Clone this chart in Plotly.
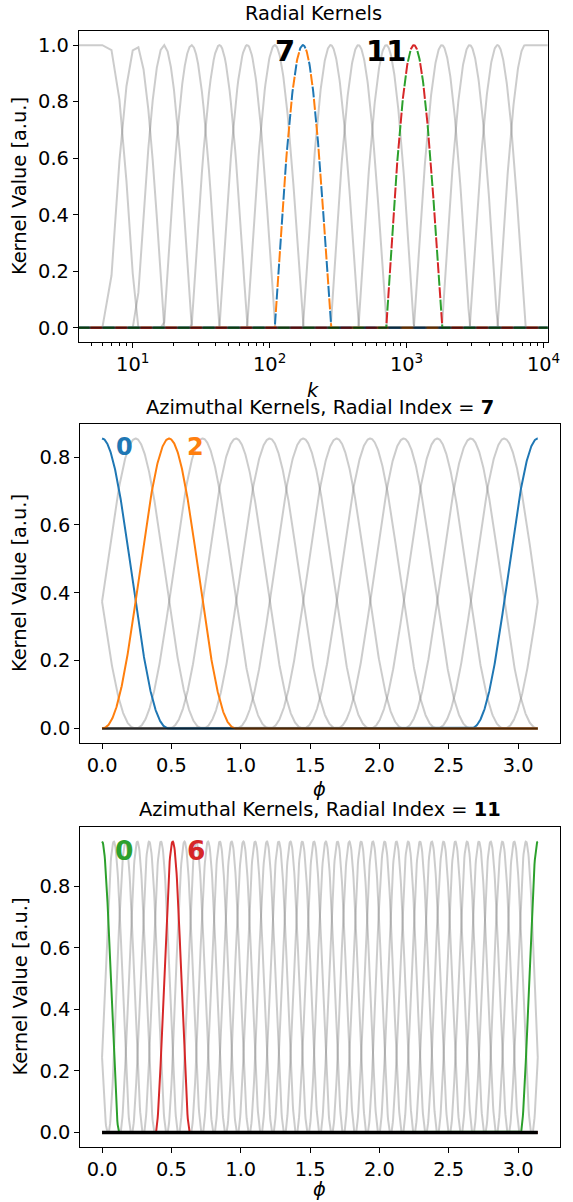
import numpy as np
import plotly.graph_objects as go

# ---- radial kernels: centre wavenumber of each radial index (0..15) ----
radial_centers = [6.62, 10.6, 16.9, 26.9, 43.0, 68.5, 109, 175, 279, 445,
                  710, 1130, 1810, 2890, 4610, 7350]
k_limits = [4.04, 10740]
radial_highlight = [7, 11]
radial_highlight_colors = [["#1f77b4", "#ff7f0e"], ["#2ca02c", "#d62728"]]
radial_tick_vals = [10, 100, 1000, 10000]
radial_tick_text = ["10<sup>1</sup>", "10<sup>2</sup>", "10<sup>3</sup>", "10<sup>4</sup>"]

# ---- azimuthal kernels for the two highlighted radial indices ----
azimuthal_radial_index = [7, 11]
azimuthal_orientations = [13, 37]
azimuthal_peak = [0.855, 0.945]
azimuthal_halfwidth = [0.49, 0.123]
azimuthal_power = [2.46, 1.78]
azimuthal_highlight = [[0, 2], [0, 6]]
azimuthal_highlight_colors = [["#1f77b4", "#ff7f0e"], ["#2ca02c", "#d62728"]]

phi_ticks = [0.0, 0.5, 1.0, 1.5, 2.0, 2.5, 3.0]
yticks_radial = [0.0, 0.2, 0.4, 0.6, 0.8, 1.0]
yticks_azimuthal = [0.0, 0.2, 0.4, 0.6, 0.8]

GRAY = "rgba(128,128,128,0.4)"
FONT = "DejaVu Sans"
W, H = 573, 1202


def radial_kernel(k, i, centers):
    lk = np.log10(k)
    lc = np.log10(np.asarray(centers, dtype=float))
    n = len(lc)
    out = np.zeros_like(lk)
    if i > 0:
        m = (lk >= lc[i - 1]) & (lk <= lc[i])
        out[m] = np.sin(np.pi / 2 * (lk[m] - lc[i - 1]) / (lc[i] - lc[i - 1]))
    else:
        out[lk <= lc[0]] = 1.0
    if i < n - 1:
        m = (lk >= lc[i]) & (lk <= lc[i + 1])
        out[m] = np.cos(np.pi / 2 * (lk[m] - lc[i]) / (lc[i + 1] - lc[i]))
    else:
        out[lk >= lc[-1]] = 1.0
    return out


def azimuthal_kernel(phi, j, n, peak, halfwidth, power):
    centre = j * np.pi / n
    d = np.mod(phi - centre + np.pi / 2, np.pi) - np.pi / 2
    out = np.zeros_like(phi)
    m = np.abs(d) < halfwidth
    out[m] = peak * np.cos(np.pi / 2 * d[m] / halfwidth) ** power
    return out


# integer wavenumbers, denser at low k
k = np.unique(np.round(np.geomspace(k_limits[0] - 0.04, k_limits[1], 1600)))
phi = np.linspace(0, np.pi, 1200)

fig = go.Figure()

# ---- panel 1: radial kernels ----
for i in range(len(radial_centers)):
    if i in radial_highlight:
        continue
    fig.add_trace(go.Scatter(x=k, y=radial_kernel(k, i, radial_centers), mode="lines",
                             line=dict(color=GRAY, width=2), xaxis="x", yaxis="y",
                             hoverinfo="skip"))
# highlighted radial kernels: two-colour dashes (second colour fills the gaps)
for idx, colors in zip(radial_highlight, radial_highlight_colors):
    yk = radial_kernel(k, idx, radial_centers)
    fig.add_trace(go.Scatter(x=k, y=yk, mode="lines",
                             line=dict(color=colors[0], width=2, dash="11px,14px"),
                             xaxis="x", yaxis="y", hoverinfo="skip"))
    fig.add_trace(go.Scatter(x=k, y=yk, mode="lines",
                             line=dict(color=colors[1], width=2, dash="0px,12.5px,11px,1.5px"),
                             xaxis="x", yaxis="y", hoverinfo="skip"))
fig.add_trace(go.Scatter(x=k, y=np.zeros_like(k), mode="lines",
                         line=dict(color="rgba(0,0,0,0.65)", width=2),
                         xaxis="x", yaxis="y", hoverinfo="skip"))

# ---- panels 2 and 3: azimuthal kernels ----
for p in range(2):
    xa, ya = ("x2", "y2") if p == 0 else ("x3", "y3")
    n = azimuthal_orientations[p]
    for j in range(n):
        if j in azimuthal_highlight[p]:
            continue
        fig.add_trace(go.Scatter(
            x=phi, y=azimuthal_kernel(phi, j, n, azimuthal_peak[p],
                                      azimuthal_halfwidth[p], azimuthal_power[p]),
            mode="lines", line=dict(color=GRAY, width=2), xaxis=xa, yaxis=ya,
            hoverinfo="skip"))
    for j, c in zip(azimuthal_highlight[p], azimuthal_highlight_colors[p]):
        fig.add_trace(go.Scatter(
            x=phi, y=azimuthal_kernel(phi, j, n, azimuthal_peak[p],
                                      azimuthal_halfwidth[p], azimuthal_power[p]),
            mode="lines", line=dict(color=c, width=2), xaxis=xa, yaxis=ya,
            hoverinfo="skip"))
    zero_line = dict(color="rgba(0,0,0,0.7)", width=2) if p == 0 else dict(color="black", width=3.5)
    fig.add_trace(go.Scatter(x=phi, y=np.zeros_like(phi), mode="lines", line=zero_line,
                             xaxis=xa, yaxis=ya, hoverinfo="skip"))


def xdom(a, b):
    return [a / W, b / W]


def ydom(top, bottom):
    return [1 - bottom / H, 1 - top / H]


axis_common = dict(showline=True, linecolor="black", linewidth=1, mirror=True,
                   ticks="outside", ticklen=5, tickwidth=1, tickcolor="black",
                   showgrid=False, zeroline=False,
                   tickfont=dict(family=FONT, size=19.4, color="black"))

panels = [(80.5, 559.5, 31, 342), (82, 571.5, 424, 743), (82, 571.5, 827, 1147)]

minor_vals = [m * 10 ** e for e in range(0, 5) for m in range(2, 10)
              if k_limits[0] <= m * 10 ** e <= k_limits[1]]

fig.update_layout(
    width=W, height=H, margin=dict(l=0, r=0, t=0, b=0),
    paper_bgcolor="white", plot_bgcolor="white", showlegend=False,
    font=dict(family=FONT, color="black"),
    xaxis=dict(axis_common, type="log", domain=xdom(*panels[0][:2]), anchor="y",
               range=[np.log10(k_limits[0]), np.log10(k_limits[1])],
               tickvals=radial_tick_vals, ticktext=radial_tick_text,
               minor=dict(ticks="outside", ticklen=2.8, tickwidth=0.8, tickcolor="black",
                          tickvals=minor_vals)),
    yaxis=dict(axis_common, domain=ydom(*panels[0][2:]), anchor="x", range=[-0.05, 1.05],
               tickvals=yticks_radial, ticktext=[f"{v:.1f}" for v in yticks_radial]),
    xaxis2=dict(axis_common, domain=xdom(*panels[1][:2]), anchor="y2",
                range=[-0.157, np.pi + 0.157],
                tickvals=phi_ticks, ticktext=[f"{v:.1f}" for v in phi_ticks]),
    yaxis2=dict(axis_common, domain=ydom(*panels[1][2:]), anchor="x2",
                range=[-0.05 * azimuthal_peak[0], 1.05 * azimuthal_peak[0]],
                tickvals=yticks_azimuthal, ticktext=[f"{v:.1f}" for v in yticks_azimuthal]),
    xaxis3=dict(axis_common, domain=xdom(*panels[2][:2]), anchor="y3",
                range=[-0.157, np.pi + 0.157],
                tickvals=phi_ticks, ticktext=[f"{v:.1f}" for v in phi_ticks]),
    yaxis3=dict(axis_common, domain=ydom(*panels[2][2:]), anchor="x3",
                range=[-0.05 * azimuthal_peak[1], 1.05 * azimuthal_peak[1]],
                tickvals=yticks_azimuthal, ticktext=[f"{v:.1f}" for v in yticks_azimuthal]),
)

ann = []
titles = ["Radial Kernels",
          f"Azimuthal Kernels, Radial Index = <b>{azimuthal_radial_index[0]}</b>",
          f"Azimuthal Kernels, Radial Index = <b>{azimuthal_radial_index[1]}</b>"]
xlabels = ["<i>k</i>", "<i>ϕ</i>", "<i>ϕ</i>"]
xlabel_offsets = [49, 46, 42]
for (l, r, t, b), title, xl, off in zip(panels, titles, xlabels, xlabel_offsets):
    cx = (l + r) / 2 / W
    ann.append(dict(text=title, x=cx, y=1 - (t - 3.5) / H, xref="paper", yref="paper",
                    xanchor="center", yanchor="bottom", showarrow=False,
                    font=dict(family=FONT, size=19.4, color="black")))
    ann.append(dict(text=xl, x=cx, y=1 - (b + off) / H, xref="paper", yref="paper",
                    xanchor="center", yanchor="middle", showarrow=False,
                    font=dict(family=FONT, size=19.4, color="black")))
    ann.append(dict(text="Kernel Value [a.u.]", x=20 / W, y=1 - (t + b) / 2 / H,
                    xref="paper", yref="paper", xanchor="center", yanchor="middle",
                    textangle=-90, showarrow=False,
                    font=dict(family=FONT, size=19.4, color="black")))

# index labels on each panel
for idx, xf in zip(radial_highlight, [0.44, 0.655]):
    ann.append(dict(text=f"<b>{idx}</b>", x=xf, y=0.936, xref="x domain", yref="y domain",
                    xanchor="center", yanchor="middle", showarrow=False,
                    font=dict(family=FONT, size=29, color="black")))
for p, (xa, ya, size) in enumerate([("x2", "y2", 24), ("x3", "y3", 26.5)]):
    for j, c, xf in zip(azimuthal_highlight[p], azimuthal_highlight_colors[p], [0.092, 0.241]):
        ann.append(dict(text=f"<b>{j}</b>", x=xf, y=0.927, xref=f"{xa} domain",
                        yref=f"{ya} domain", xanchor="center", yanchor="middle",
                        showarrow=False, font=dict(family=FONT, size=size, color=c)))

fig.update_layout(annotations=ann)
fig.write_html("out.html")
